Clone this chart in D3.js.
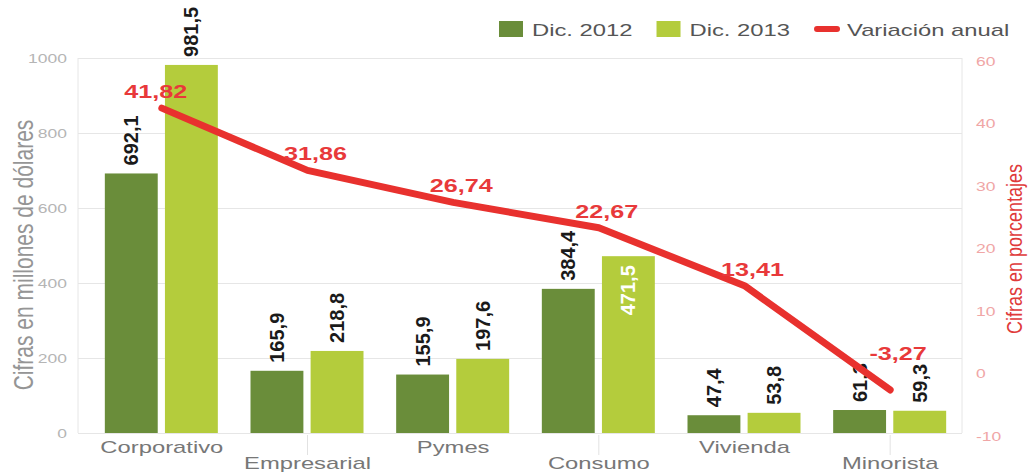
<!DOCTYPE html>
<html>
<head>
<meta charset="utf-8">
<script src="https://cdnjs.cloudflare.com/ajax/libs/d3/7.8.5/d3.min.js"></script>
<style>
  body { margin: 0; background: #fff; }
  text { font-family: "Liberation Sans", Arial, sans-serif; }
</style>
</head>
<body>
<div id="chart"></div>
<script>
const categories = ["Corporativo", "Empresarial", "Pymes", "Consumo", "Vivienda", "Minorista"];
const dic2012 = [692.1, 165.9, 155.9, 384.4, 47.4, 61.3];
const dic2013 = [981.5, 218.8, 197.6, 471.5, 53.8, 59.3];
const variacion = [41.82, 31.86, 26.74, 22.67, 13.41, -3.27];
const seriesNames = ["Dic. 2012", "Dic. 2013", "Variación anual"];
const leftTicks = [0, 200, 400, 600, 800, 1000];
const rightTicks = [-10, 0, 10, 20, 30, 40, 50];
const rightTickLabels = ["-10", "0", "10", "20", "30", "40", "60"];

const width = 1029, height = 473;
const plot = { left: 78, right: 962, top: 58, bottom: 433 };
const stretch = "scale(1.4,1)";

const colors = { "Dic. 2012": "#6a8d3a", "Dic. 2013": "#b4cc3c", line: "#e8312e" };

const es = d3.formatLocale({ decimal: ",", thousands: ".", grouping: [3], currency: ["$", ""], minus: "-" });
const f1 = es.format(".1f"), f2 = es.format(".2f");

const svg = d3.select("#chart").append("svg")
    .attr("width", width)
    .attr("height", height);

const x = d3.scaleBand().domain(categories).range([89, 963]);
const xi = d3.scaleBand().domain(["Dic. 2012", "Dic. 2013"]).range([-57, 56]).paddingInner(0.12);
const y = d3.scaleLinear().domain([0, 1000]).range([plot.bottom, plot.top]);
const yR = d3.scaleLinear().domain([-10, 50]).range([plot.bottom - 1, plot.top - 1]);
const cx = c => x(c) + x.bandwidth() / 2;

// grid
svg.append("g")
    .attr("transform", "translate(" + plot.left + ",0)")
    .call(d3.axisLeft(y).tickValues(leftTicks).tickSize(-(plot.right - plot.left)).tickFormat(""))
    .call(g => g.select(".domain").remove())
    .selectAll("line").attr("stroke", "#e6e6e6");

[plot.left, plot.right].forEach(px => {
    svg.append("line")
        .attr("x1", px).attr("x2", px)
        .attr("y1", y(1000)).attr("y2", y(0))
        .attr("stroke", "#e6e6e6");
});

// left axis
svg.append("g")
    .attr("transform", "translate(67,0)")
    .call(d3.axisLeft(y).tickValues(leftTicks).tickSize(0).tickPadding(0).tickFormat(d => String(d)))
    .call(g => g.select(".domain").remove())
    .selectAll("text")
    .attr("x", 0)
    .attr("transform", stretch)
    .attr("font-size", 12.5)
    .attr("fill", "#b5b5b5");

// right axis
svg.append("g")
    .attr("transform", "translate(976,4)")
    .call(d3.axisRight(yR).tickValues(rightTicks).tickSize(0).tickPadding(0)
        .tickFormat((d, i) => rightTickLabels[i]))
    .call(g => g.select(".domain").remove())
    .selectAll("text")
    .attr("x", 0)
    .attr("transform", stretch)
    .attr("font-size", 12.5)
    .attr("fill", "#f0a6a6");

// bars
const rows = [];
categories.forEach((c, i) => {
    rows.push({ cat: c, key: "Dic. 2012", value: dic2012[i] });
    rows.push({ cat: c, key: "Dic. 2013", value: dic2013[i] });
});

svg.selectAll(".bar")
    .data(rows)
    .enter().append("rect")
    .attr("class", "bar")
    .attr("x", d => cx(d.cat) + xi(d.key))
    .attr("y", d => y(d.value))
    .attr("width", xi.bandwidth())
    .attr("height", d => y(0) - y(d.value))
    .attr("fill", d => colors[d.key]);

// value labels on bars (the Consumo 2013 one sits inside its bar)
const inside = d => d.cat === "Consumo" && d.key === "Dic. 2013";
svg.selectAll(".barlabel")
    .data(rows)
    .enter().append("text")
    .attr("class", "barlabel")
    .attr("transform", d => "translate(" + (cx(d.cat) + xi(d.key) + xi.bandwidth() / 2) + "," +
        (inside(d) ? y(d.value) + 9 : y(d.value) - 8) + ") rotate(-90)")
    .attr("dy", "0.35em")
    .attr("text-anchor", d => inside(d) ? "end" : "start")
    .attr("font-size", 20)
    .attr("font-weight", "bold")
    .attr("fill", d => inside(d) ? "#fff" : "#1a1a1a")
    .text(d => f1(d.value));

// category labels, staggered in two rows
categories.forEach((c, i) => {
    if (i % 2) {
        svg.append("line")
            .attr("x1", cx(c)).attr("x2", cx(c))
            .attr("y1", y(0) + 2).attr("y2", 455)
            .attr("stroke", "#e2e2e2");
    }
    svg.append("text")
        .attr("transform", "translate(" + cx(c) + "," + (i % 2 ? 469 : 453) + ") " + stretch)
        .attr("text-anchor", "middle")
        .attr("font-size", 17)
        .attr("fill", "#777")
        .text(c);
});

// line
const line = d3.line()
    .x((d, i) => cx(categories[i]))
    .y(d => yR(d));

svg.append("path")
    .datum(variacion)
    .attr("d", line)
    .attr("fill", "none")
    .attr("stroke", colors.line)
    .attr("stroke-width", 7)
    .attr("stroke-linecap", "round")
    .attr("stroke-linejoin", "round");

svg.selectAll(".linelabel")
    .data(variacion)
    .enter().append("text")
    .attr("class", "linelabel")
    .attr("transform", (d, i) => "translate(" + (cx(categories[i]) + (i === 0 ? -6 : 8)) + "," +
        (Math.min(yR(d), yR(0)) - 10) + ") " + stretch)
    .attr("text-anchor", "middle")
    .attr("font-size", 18)
    .attr("font-weight", "bold")
    .attr("fill", "#e8393a")
    .text(d => f2(d));

// axis titles
svg.append("text")
    .attr("transform", "translate(33,255) rotate(-90) scale(1,1.35)")
    .attr("text-anchor", "middle")
    .attr("font-size", 21)
    .attr("fill", "#959595")
    .text("Cifras en millones de dólares");

svg.append("text")
    .attr("transform", "translate(1022,249) rotate(-90) scale(1,1.25)")
    .attr("text-anchor", "middle")
    .attr("font-size", 18)
    .attr("fill", "#e03a3a")
    .text("Cifras en porcentajes");

// legend
let lx = 499;
seriesNames.forEach((name, i) => {
    const g = svg.append("g");
    if (i < 2) {
        g.append("rect")
            .attr("x", lx).attr("y", 21)
            .attr("width", 24).attr("height", 16)
            .attr("fill", colors[name]);
    } else {
        g.append("line")
            .attr("x1", lx + 3).attr("x2", lx + 23)
            .attr("y1", 29).attr("y2", 29)
            .attr("stroke", colors.line)
            .attr("stroke-width", 6)
            .attr("stroke-linecap", "round");
    }
    const t = g.append("text")
        .attr("transform", "translate(" + (lx + 33) + ",36) " + stretch)
        .attr("font-size", 17)
        .attr("fill", "#555")
        .text(name);
    lx += 33 + t.node().getComputedTextLength() * 1.4 + 24;
});
</script>
</body>
</html>
